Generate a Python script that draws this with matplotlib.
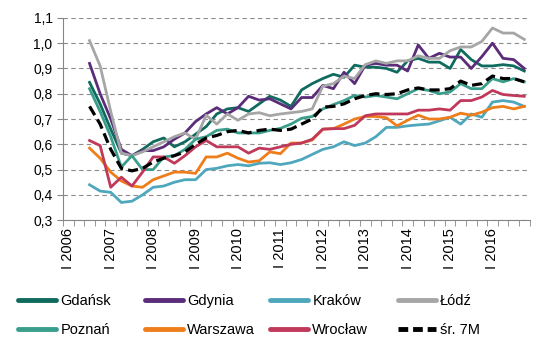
import numpy as np
import matplotlib
matplotlib.use("Agg")
import matplotlib.pyplot as plt
from matplotlib.lines import Line2D

plt.rcParams['font.family'] = ['Liberation Sans', 'DejaVu Sans']

# kwartały I 2006 - IV 2016, dane od III 2006
years = list(range(2006, 2017))
n_q = len(years) * 4
start = 2  # III kw. 2006

gdansk = [0.845, 0.76, 0.66, 0.565, 0.555, 0.58, 0.61, 0.625, 0.59, 0.61, 0.64, 0.67, 0.72, 0.74, 0.745, 0.73, 0.76,
          0.79, 0.775, 0.75, 0.815, 0.84, 0.86, 0.877, 0.865, 0.913, 0.905, 0.905, 0.90, 0.885, 0.93, 0.94, 0.925,
          0.925, 0.90, 0.975, 0.935, 0.91, 0.91, 0.915, 0.91, 0.89]
gdynia = [0.92, 0.80, 0.70, 0.58, 0.555, 0.575, 0.575, 0.59, 0.62, 0.645, 0.69, 0.72, 0.745, 0.72, 0.745, 0.79, 0.775,
          0.78, 0.76, 0.74, 0.785, 0.785, 0.833, 0.82, 0.885, 0.84, 0.913, 0.92, 0.913, 0.913, 0.89, 0.993, 0.94,
          0.96, 0.945, 0.945, 0.90, 0.947, 1.0, 0.94, 0.935, 0.90]
krakow = [0.44, 0.415, 0.41, 0.37, 0.375, 0.40, 0.43, 0.435, 0.45, 0.46, 0.46, 0.50, 0.505, 0.515, 0.52, 0.515, 0.525,
          0.527, 0.52, 0.527, 0.54, 0.56, 0.58, 0.59, 0.61, 0.595, 0.605, 0.63, 0.667, 0.667, 0.673, 0.677, 0.68,
          0.693, 0.707, 0.68, 0.72, 0.707, 0.767, 0.773, 0.767, 0.75]
lodz = [1.01, 0.91, 0.73, 0.565, 0.555, 0.57, 0.59, 0.61, 0.63, 0.645, 0.62, 0.715, 0.68, 0.72, 0.695, 0.72, 0.725,
        0.713, 0.72, 0.725, 0.73, 0.74, 0.83, 0.84, 0.87, 0.86, 0.915, 0.93, 0.92, 0.93, 0.93, 0.95, 0.94,
        0.94, 0.97, 0.985, 0.985, 1.007, 1.06, 1.04, 1.04, 1.015]
poznan = [0.82, 0.73, 0.63, 0.51, 0.555, 0.50, 0.50, 0.55, 0.555, 0.58, 0.62, 0.63, 0.655, 0.66, 0.645, 0.645, 0.645,
          0.655, 0.663, 0.68, 0.703, 0.71, 0.74, 0.757, 0.773, 0.793, 0.787, 0.793, 0.787, 0.78, 0.80, 0.82, 0.813,
          0.80, 0.807, 0.84, 0.82, 0.82, 0.86, 0.847, 0.86, 0.847]
warszawa = [0.585, 0.545, 0.49, 0.455, 0.435, 0.43, 0.46, 0.475, 0.49, 0.49, 0.485, 0.55, 0.55, 0.565, 0.545, 0.53, 0.535,
            0.57, 0.563, 0.605, 0.605, 0.617, 0.66, 0.662, 0.68, 0.70, 0.71, 0.71, 0.705, 0.673, 0.695, 0.715, 0.70,
            0.70, 0.707, 0.723, 0.715, 0.727, 0.745, 0.75, 0.74, 0.75]
wroclaw = [0.615, 0.595, 0.43, 0.47, 0.435, 0.49, 0.55, 0.55, 0.525, 0.555, 0.59, 0.615, 0.59, 0.59, 0.59, 0.565, 0.585,
           0.58, 0.59, 0.60, 0.605, 0.62, 0.66, 0.662, 0.662, 0.675, 0.713, 0.72, 0.72, 0.72, 0.72, 0.735, 0.735,
           0.74, 0.735, 0.773, 0.773, 0.787, 0.813, 0.797, 0.793, 0.79]
sr7m = [0.75, 0.68, 0.58, 0.505, 0.495, 0.505, 0.53, 0.545, 0.555, 0.57, 0.60, 0.625, 0.635, 0.65, 0.655, 0.645, 0.655,
        0.66, 0.655, 0.66, 0.68, 0.70, 0.747, 0.75, 0.76, 0.78, 0.793, 0.80, 0.797, 0.80, 0.815, 0.823, 0.815,
        0.815, 0.82, 0.85, 0.833, 0.84, 0.87, 0.86, 0.86, 0.847]

names = ['Gdańsk', 'Gdynia', 'Kraków', 'Łódź', 'Poznań', 'Warszawa', 'Wrocław', 'śr. 7M']
series = [gdansk, gdynia, krakow, lodz, poznan, warszawa, wroclaw, sr7m]
colors = ['#0f6b5e', '#5b2c7a', '#4fa7bd', '#a6a6a6', '#3a9e8c', '#ef7d1a', '#c1395a', '#000000']

fig = plt.figure(figsize=(5.4, 3.44), dpi=100)
ax = fig.add_axes([0.1167, 0.36, 0.864, 0.588])

x = np.arange(start, n_q)
handles = []
for name, vals, c in zip(names, series, colors):
    if name == 'śr. 7M':
        ln, = ax.plot(x, vals, color=c, lw=2.3, dashes=(3.2, 1.6), label=name, zorder=5)
    else:
        ln, = ax.plot(x, vals, color=c, lw=2.0, label=name, zorder=3)
    handles.append(ln)

ax.set_xlim(-0.5, n_q - 0.5)
ax.set_ylim(0.3, 1.1)
yt = np.arange(0.3, 1.11, 0.1)
ax.set_yticks(yt)
ax.set_yticklabels([f"{v:.1f}".replace('.', ',') for v in yt], fontsize=10)
ax.grid(axis='y', color='#8c8c8c', lw=0.8, dashes=(4, 3))
ax.set_axisbelow(True)

ax.set_xticks(np.arange(0, n_q, 4))
ax.set_xticklabels([f"I {y}" for y in years], rotation=90, fontsize=10.5)
ax.set_xticks(np.arange(-0.5, n_q, 1), minor=True)
ax.tick_params(axis='x', which='major', length=0, pad=6)
ax.tick_params(axis='x', which='minor', length=4, color='#868686')
ax.tick_params(axis='y', length=4, color='#868686')

for s in ['top', 'right']:
    ax.spines[s].set_visible(False)
for s in ['left', 'bottom']:
    ax.spines[s].set_color('#868686')

col_x = [18, 145, 270, 398]
for j in range(4):
    hs = []
    for k in (j, j + 4):
        h = handles[k]
        hs.append(Line2D([], [], color=h.get_color(), lw=3.5,
                         dashes=(2, 1) if k == 7 else (None, None), solid_capstyle='round'))
    fig.legend(hs, [names[j], names[j + 4]], loc='upper left',
               bbox_to_anchor=(col_x[j] / 540, 1 - 294 / 344), frameon=False,
               fontsize=10.5, handlelength=2.6, handletextpad=0.3,
               borderpad=0, borderaxespad=0, labelspacing=1.05)

fig.savefig('out.png', dpi=100)
